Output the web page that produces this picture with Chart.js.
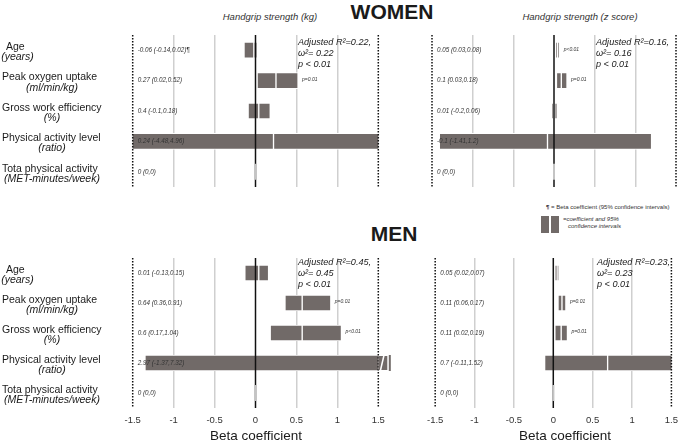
<!DOCTYPE html>
<html>
<head>
<meta charset="utf-8">
<script src="https://cdn.jsdelivr.net/npm/chart.js@4.4.0/dist/chart.umd.min.js"></script>
<style>
  body { margin: 0; background: #fff; width: 685px; height: 442px; overflow: hidden; position: relative;
         font-family: "Liberation Sans", Arial, sans-serif; color: #1a1a1a; }
  canvas { position: absolute; }
  .t { position: absolute; white-space: nowrap; line-height: 1; }
  .c { transform: translate(-50%, -50%); }
  .title { font-weight: bold; font-size: 21px; }
  .sub { font-style: italic; font-size: 9.5px; color: #333; }
  .stats { font-style: italic; font-size: 9.1px; line-height: 11.2px; }
  .beta { font-size: 13.5px; }
  .leg { font-size: 6px; color: #333; }
  .box { position: absolute; background: #716a68; }
</style>
</head>
<body>
<canvas id="womenKg" width="400" height="165" style="left:0;top:30px"></canvas>
<canvas id="womenZ" width="265" height="165" style="left:420px;top:30px"></canvas>
<canvas id="menKg" width="400" height="192" style="left:0;top:250px"></canvas>
<canvas id="menZ" width="265" height="192" style="left:420px;top:250px"></canvas>

<div class="t c title" style="left:392px;top:11px">WOMEN</div>
<div class="t c title" style="left:394px;top:233px">MEN</div>
<div class="t c sub" style="left:270px;top:17px">Handgrip strength (kg)</div>
<div class="t c sub" style="left:580px;top:17px">Handgrip strength (z score)</div>

<div class="t stats" style="left:298px;top:37px">Adjusted R²=0.22,<br>ω²= 0.22<br>p &lt; 0.01</div>
<div class="t stats" style="left:596px;top:37px">Adjusted R²=0.16,<br>ω²= 0.16<br>p &lt; 0.01</div>
<div class="t stats" style="left:298px;top:257px">Adjusted R²=0.45,<br>ω²= 0.45<br>p &lt; 0.01</div>
<div class="t stats" style="left:597px;top:257px">Adjusted R²=0.23,<br>ω²= 0.23<br>p &lt; 0.01</div>

<div class="t c beta" style="left:256px;top:436px">Beta coefficient</div>
<div class="t c beta" style="left:565px;top:436px">Beta coefficient</div>

<div class="t leg" style="left:546px;top:204px"><b>¶</b> = Beta coefficient (95% confidence intervals)</div>
<div class="box" style="left:541px;top:216px;width:8px;height:17px"></div>
<div class="box" style="left:551px;top:216px;width:8px;height:17px"></div>
<div class="t leg" style="left:563px;top:216px;font-style:italic">=coefficient and 95%</div>
<div class="t leg" style="left:568px;top:223px;font-style:italic">confidence intervals</div>

<script>
const rows = ['Age', 'Peak oxygen uptake', 'Gross work efficiency', 'Physical activity level', 'Tota physical activity'];
const units = ['(years)', '(ml/min/kg)', '(%)', '(ratio)', '(MET-minutes/week)'];
const xTicks = [-1.5, -1, -0.5, 0, 0.5, 1, 1.5];

// women, handgrip strength (kg)
const womenKgLow = [-0.14, 0.02, -0.09, -4.48, 0];
const womenKgBeta = [-0.02, 0.25, 0.04, 0.22, 0];
const womenKgHigh = [0.02, 0.52, 0.18, 4.96, 0];
const womenKgText = ['-0.06 (-0.14,0.02)¶', '0.27 (0.02,0.52)', '0.4 (-0.1,0.18)', '0.24 (-4.48,4.96)', '0 (0,0)'];
const womenKgP = [null, 'p=0.01', null, null, null];
const womenKgBreak = [false, false, false, false, false];

// women, handgrip strength (z score)
const womenZLow = [0.02, 0.03, -0.03, -1.41, 0];
const womenZBeta = [0.045, 0.09, 0.0, -0.08, 0];
const womenZHigh = [0.07, 0.16, 0.04, 1.2, 0];
const womenZText = ['0.05 (0.03,0.08)', '0.1 (0.03,0.18)', '0.01 (-0.2,0.06)', '-0.1 (-1.41,1.2)', '0 (0,0)'];
const womenZP = ['p<0.01', 'p=0.01', null, null, null];
const womenZBreak = [false, false, false, false, false];

// men, handgrip strength (kg)
const menKgLow = [-0.13, 0.36, 0.18, -1.35, 0];
const menKgBeta = [0.04, 0.57, 0.57, 2.97, 0];
const menKgHigh = [0.16, 0.92, 1.05, 7.32, 0];
const menKgText = ['0.01 (-0.13,0.15)', '0.64 (0.36,0.91)', '0.6 (0.17,1.04)', '2.97 (-1.37,7.32)', '0 (0,0)'];
const menKgP = [null, 'p=0.01', 'p<0.01', null, null];
const menKgBreak = [false, false, false, true, false];

// men, handgrip strength (z score)
const menZLow = [0.02, 0.06, 0.02, -0.11, 0];
const menZBeta = [0.05, 0.11, 0.1, 0.69, 0];
const menZHigh = [0.07, 0.16, 0.18, 1.52, 0];
const menZText = ['0.05 (0.02,0.07)', '0.11 (0.06,0.17)', '0.11 (0.02,0.19)', '0.7 (-0.11,1.52)', '0 (0,0)'];
const menZP = [null, 'p=0.01', 'p=0.01', null, null];
const menZBreak = [false, false, false, false, false];

const FONT = '"Liberation Sans", Arial, sans-serif';
const BAR = '#716a68';
Chart.defaults.font.family = FONT;

function panel(id, low, beta, high, text, pvals, breaks, opt) {
  const marks = {
    id: 'marks',
    afterDatasetsDraw(chart) {
      const { ctx, chartArea: a, scales: { x, y } } = chart;
      ctx.save();
      // zero line
      const x0 = x.getPixelForValue(0);
      ctx.strokeStyle = '#111';
      ctx.lineWidth = 1.5;
      ctx.beginPath(); ctx.moveTo(x0, a.top); ctx.lineTo(x0, a.bottom); ctx.stroke();
      // dotted limits
      ctx.setLineDash([1.5, 1.5]);
      [x.min, x.max].forEach(v => {
        const px = x.getPixelForValue(v);
        ctx.beginPath(); ctx.moveTo(px, a.top); ctx.lineTo(px, a.bottom); ctx.stroke();
      });
      ctx.setLineDash([]);

      rows.forEach((r, i) => {
        const yc = y.getPixelForValue(i);
        // zero width interval
        if (low[i] === high[i]) {
          ctx.strokeStyle = '#c4c4c4';
          ctx.lineWidth = 2;
          ctx.beginPath(); ctx.moveTo(x0, yc - 8); ctx.lineTo(x0, yc + 8); ctx.stroke();
        }
        // broken bar past the axis end
        if (breaks[i]) {
          const xe = x.getPixelForValue(x.max);
          ctx.fillStyle = BAR;
          ctx.fillRect(xe, yc - 7, 9, 14);
          ctx.fillRect(xe + 10.5, yc - 8, 2, 16);
          ctx.strokeStyle = '#fff';
          ctx.lineWidth = 1.5;
          ctx.beginPath(); ctx.moveTo(xe + 2, yc + 8); ctx.lineTo(xe + 6, yc - 9); ctx.stroke();
        }
        ctx.fillStyle = '#333';
        ctx.textBaseline = 'middle';
        ctx.textAlign = 'left';
        ctx.font = 'italic 6.3px ' + FONT;
        ctx.fillText(text[i], a.left + 5, yc);
        if (pvals[i]) {
          ctx.font = 'italic 5px ' + FONT;
          ctx.fillText(pvals[i], x.getPixelForValue(Math.min(high[i], x.max)) + 4, yc - 1);
        }
        if (opt.rowLabels) {
          ctx.fillStyle = '#1a1a1a';
          ctx.font = '10.5px ' + FONT;
          ctx.fillText(r, i === 0 ? 6 : 2, yc - 3);
          ctx.textAlign = 'center';
          ctx.font = 'italic 10.5px ' + FONT;
          ctx.fillText(units[i], i === 0 ? 17.5 : 52, yc + 7);
        }
      });
      ctx.restore();
    }
  };

  const barStyle = {
    backgroundColor: BAR,
    borderColor: '#fff',
    borderWidth: 1,
    borderSkipped: false,
    barThickness: 16,
    grouped: false
  };

  return new Chart(document.getElementById(id), {
    type: 'bar',
    data: {
      labels: rows,
      datasets: [
        { ...barStyle, data: rows.map((r, i) => [low[i], beta[i]]) },
        { ...barStyle, data: rows.map((r, i) => [beta[i], high[i]]) }
      ]
    },
    options: {
      indexAxis: 'y',
      responsive: false,
      animation: false,
      layout: { padding: opt.pad },
      plugins: { legend: { display: false }, tooltip: { enabled: false }, colors: { enabled: false } },
      scales: {
        x: {
          min: -1.5,
          max: 1.5,
          afterBuildTicks: s => { s.ticks = xTicks.map(v => ({ value: v })); },
          afterFit: s => { s.height = opt.axisH; },
          border: { display: false },
          grid: {
            drawTicks: false,
            lineWidth: 1.5,
            color: c => [-1, -0.5, 0.5, 1].includes(c.tick && c.tick.value) ? '#cfcfcf' : 'rgba(0,0,0,0)'
          },
          ticks: {
            display: opt.ticks,
            padding: 7,
            color: '#333',
            font: { size: 9.5 },
            callback: v => String(v)
          }
        },
        y: { display: false }
      }
    },
    plugins: [marks]
  });
}

panel('womenKg', womenKgLow, womenKgBeta, womenKgHigh, womenKgText, womenKgP, womenKgBreak,
  { pad: { left: 132.7, right: 21.7, top: 5, bottom: 8 }, axisH: 0, ticks: false, rowLabels: true });
panel('womenZ', womenZLow, womenZBeta, womenZHigh, womenZText, womenZP, womenZBreak,
  { pad: { left: 12, right: 9, top: 5, bottom: 8 }, axisH: 0, ticks: false, rowLabels: false });
panel('menKg', menKgLow, menKgBeta, menKgHigh, menKgText, menKgP, menKgBreak,
  { pad: { left: 132.7, right: 21.7, top: 8, bottom: 0 }, axisH: 34, ticks: true, rowLabels: true });
panel('menZ', menZLow, menZBeta, menZHigh, menZText, menZP, menZBreak,
  { pad: { left: 12, right: 9, top: 8, bottom: 0 }, axisH: 34, ticks: true, rowLabels: false });
</script>
</body>
</html>
